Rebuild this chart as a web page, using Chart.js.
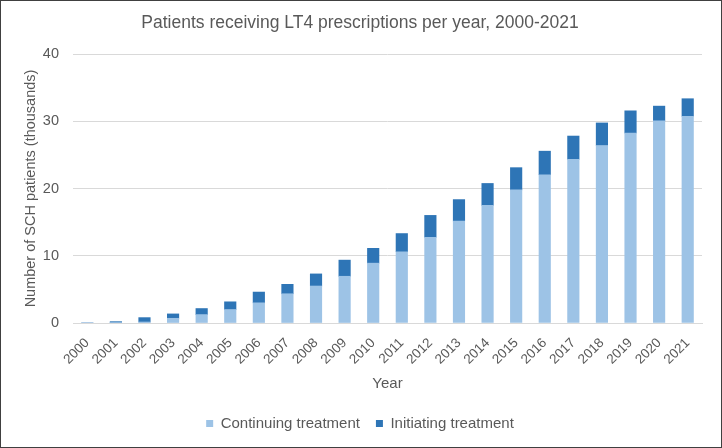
<!DOCTYPE html>
<html>
<head>
<meta charset="utf-8">
<script src="https://cdn.jsdelivr.net/npm/chart.js@4/dist/chart.umd.min.js"></script>
<style>
  html, body { margin: 0; padding: 0; background: #fff; }
  #wrap { width: 722px; height: 448px; box-sizing: border-box; border: 1px solid #404040; }
</style>
</head>
<body>
<div id="wrap"><canvas id="chart" width="720" height="446"></canvas></div>
<script>
// Years on the x axis
const years = ['2000', '2001', '2002', '2003', '2004', '2005', '2006', '2007', '2008', '2009', '2010',
  '2011', '2012', '2013', '2014', '2015', '2016', '2017', '2018', '2019', '2020', '2021'];

// Patients in thousands
const continuing = [0, 0.05, 0.15, 0.7, 1.25, 2.0, 3.0, 4.35, 5.5, 6.95, 8.9,
  10.6, 12.75, 15.15, 17.5, 19.8, 22.05, 24.35, 26.4, 28.25, 30.05, 30.75];
const initiating = [0, 0.15, 0.65, 0.65, 0.9, 1.15, 1.6, 1.4, 1.8, 2.4, 2.2,
  2.7, 3.25, 3.2, 3.25, 3.3, 3.5, 3.45, 3.35, 3.3, 2.2, 2.6];

const yTicks = [0, 10, 20, 30, 40];

const txt = '#595959';
const font = 'Liberation Sans, Arial, sans-serif';

new Chart(document.getElementById('chart').getContext('2d'), {
  type: 'bar',
  data: {
    labels: years,
    datasets: [
      { label: 'Continuing treatment', data: continuing, backgroundColor: '#9DC3E6', barThickness: 11.5 },
      { label: 'Initiating treatment', data: initiating, backgroundColor: '#2E75B6', barThickness: 11.5 }
    ]
  },
  options: {
    responsive: false,
    animation: false,
    layout: { padding: { left: 17, right: 19, top: 8, bottom: 6 } },
    plugins: {
      title: {
        display: true,
        text: 'Patients receiving LT4 prescriptions per year, 2000-2021',
        color: txt,
        font: { family: font, size: 17.5, weight: 'normal' },
        padding: { top: 4, bottom: 20 }
      },
      legend: {
        position: 'bottom',
        labels: { color: txt, font: { family: font, size: 15 }, boxWidth: 7, boxHeight: 7, padding: 16 }
      },
      tooltip: { enabled: false }
    },
    scales: {
      x: {
        stacked: true,
        afterFit: axis => { axis.height = 77; },
        grid: { display: false, drawTicks: false },
        border: { color: '#D9D9D9' },
        ticks: { color: txt, font: { family: font, size: 13.5 }, minRotation: 45, maxRotation: 45, padding: 12 },
        title: { display: true, text: 'Year', color: txt, font: { family: font, size: 15 }, padding: { top: 0, bottom: 7 } }
      },
      y: {
        stacked: true,
        min: 0,
        max: 40,
        afterBuildTicks: axis => { axis.ticks = yTicks.map(v => ({ value: v })); },
        afterFit: axis => { axis.width = 55; },
        grid: { color: '#D9D9D9', drawTicks: false },
        border: { display: false },
        ticks: { color: txt, font: { family: font, size: 14.5 }, padding: 14 },
        title: { display: true, text: 'Number of SCH patients (thousands)', color: txt, font: { family: font, size: 14.5 }, padding: { top: 4, bottom: 0 } }
      }
    }
  }
});
</script>
</body>
</html>
